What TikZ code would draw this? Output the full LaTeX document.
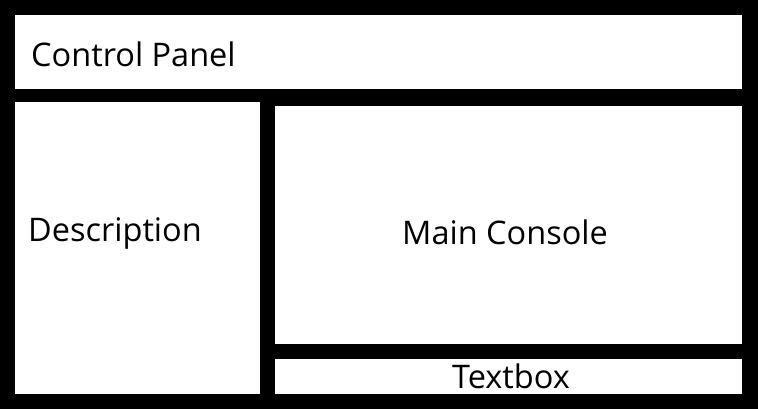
\documentclass[tikz,border=0pt]{standalone}
\usepackage{fontspec}
\setmainfont{Open Sans}
\begin{document}
\begin{tikzpicture}[x=1pt,y=-1pt]
            \tikzset{panel/.style={fill=white}, label/.style={font=\fontsize{32.5}{38}\selectfont, inner sep=0pt}}
            \fill [black] (0,0) rectangle (758,409);
            \fill [panel] (15,15) rectangle (742,89);
            \fill [panel] (15,102) rectangle (260,394);
            \fill [panel] (275,106) rectangle (742,344);
            \fill [panel] (275,359) rectangle (742,394);
            \node[label, anchor=west] (control) at (31,54) {Control Panel};
            \node[label, anchor=west] (desc) at (28,233) {Description};
            \node[label] (console) at (505,232) {Main Console};
            \node[label] (textbox) at (511,376) {Textbox};
\end{tikzpicture}
\end{document}
